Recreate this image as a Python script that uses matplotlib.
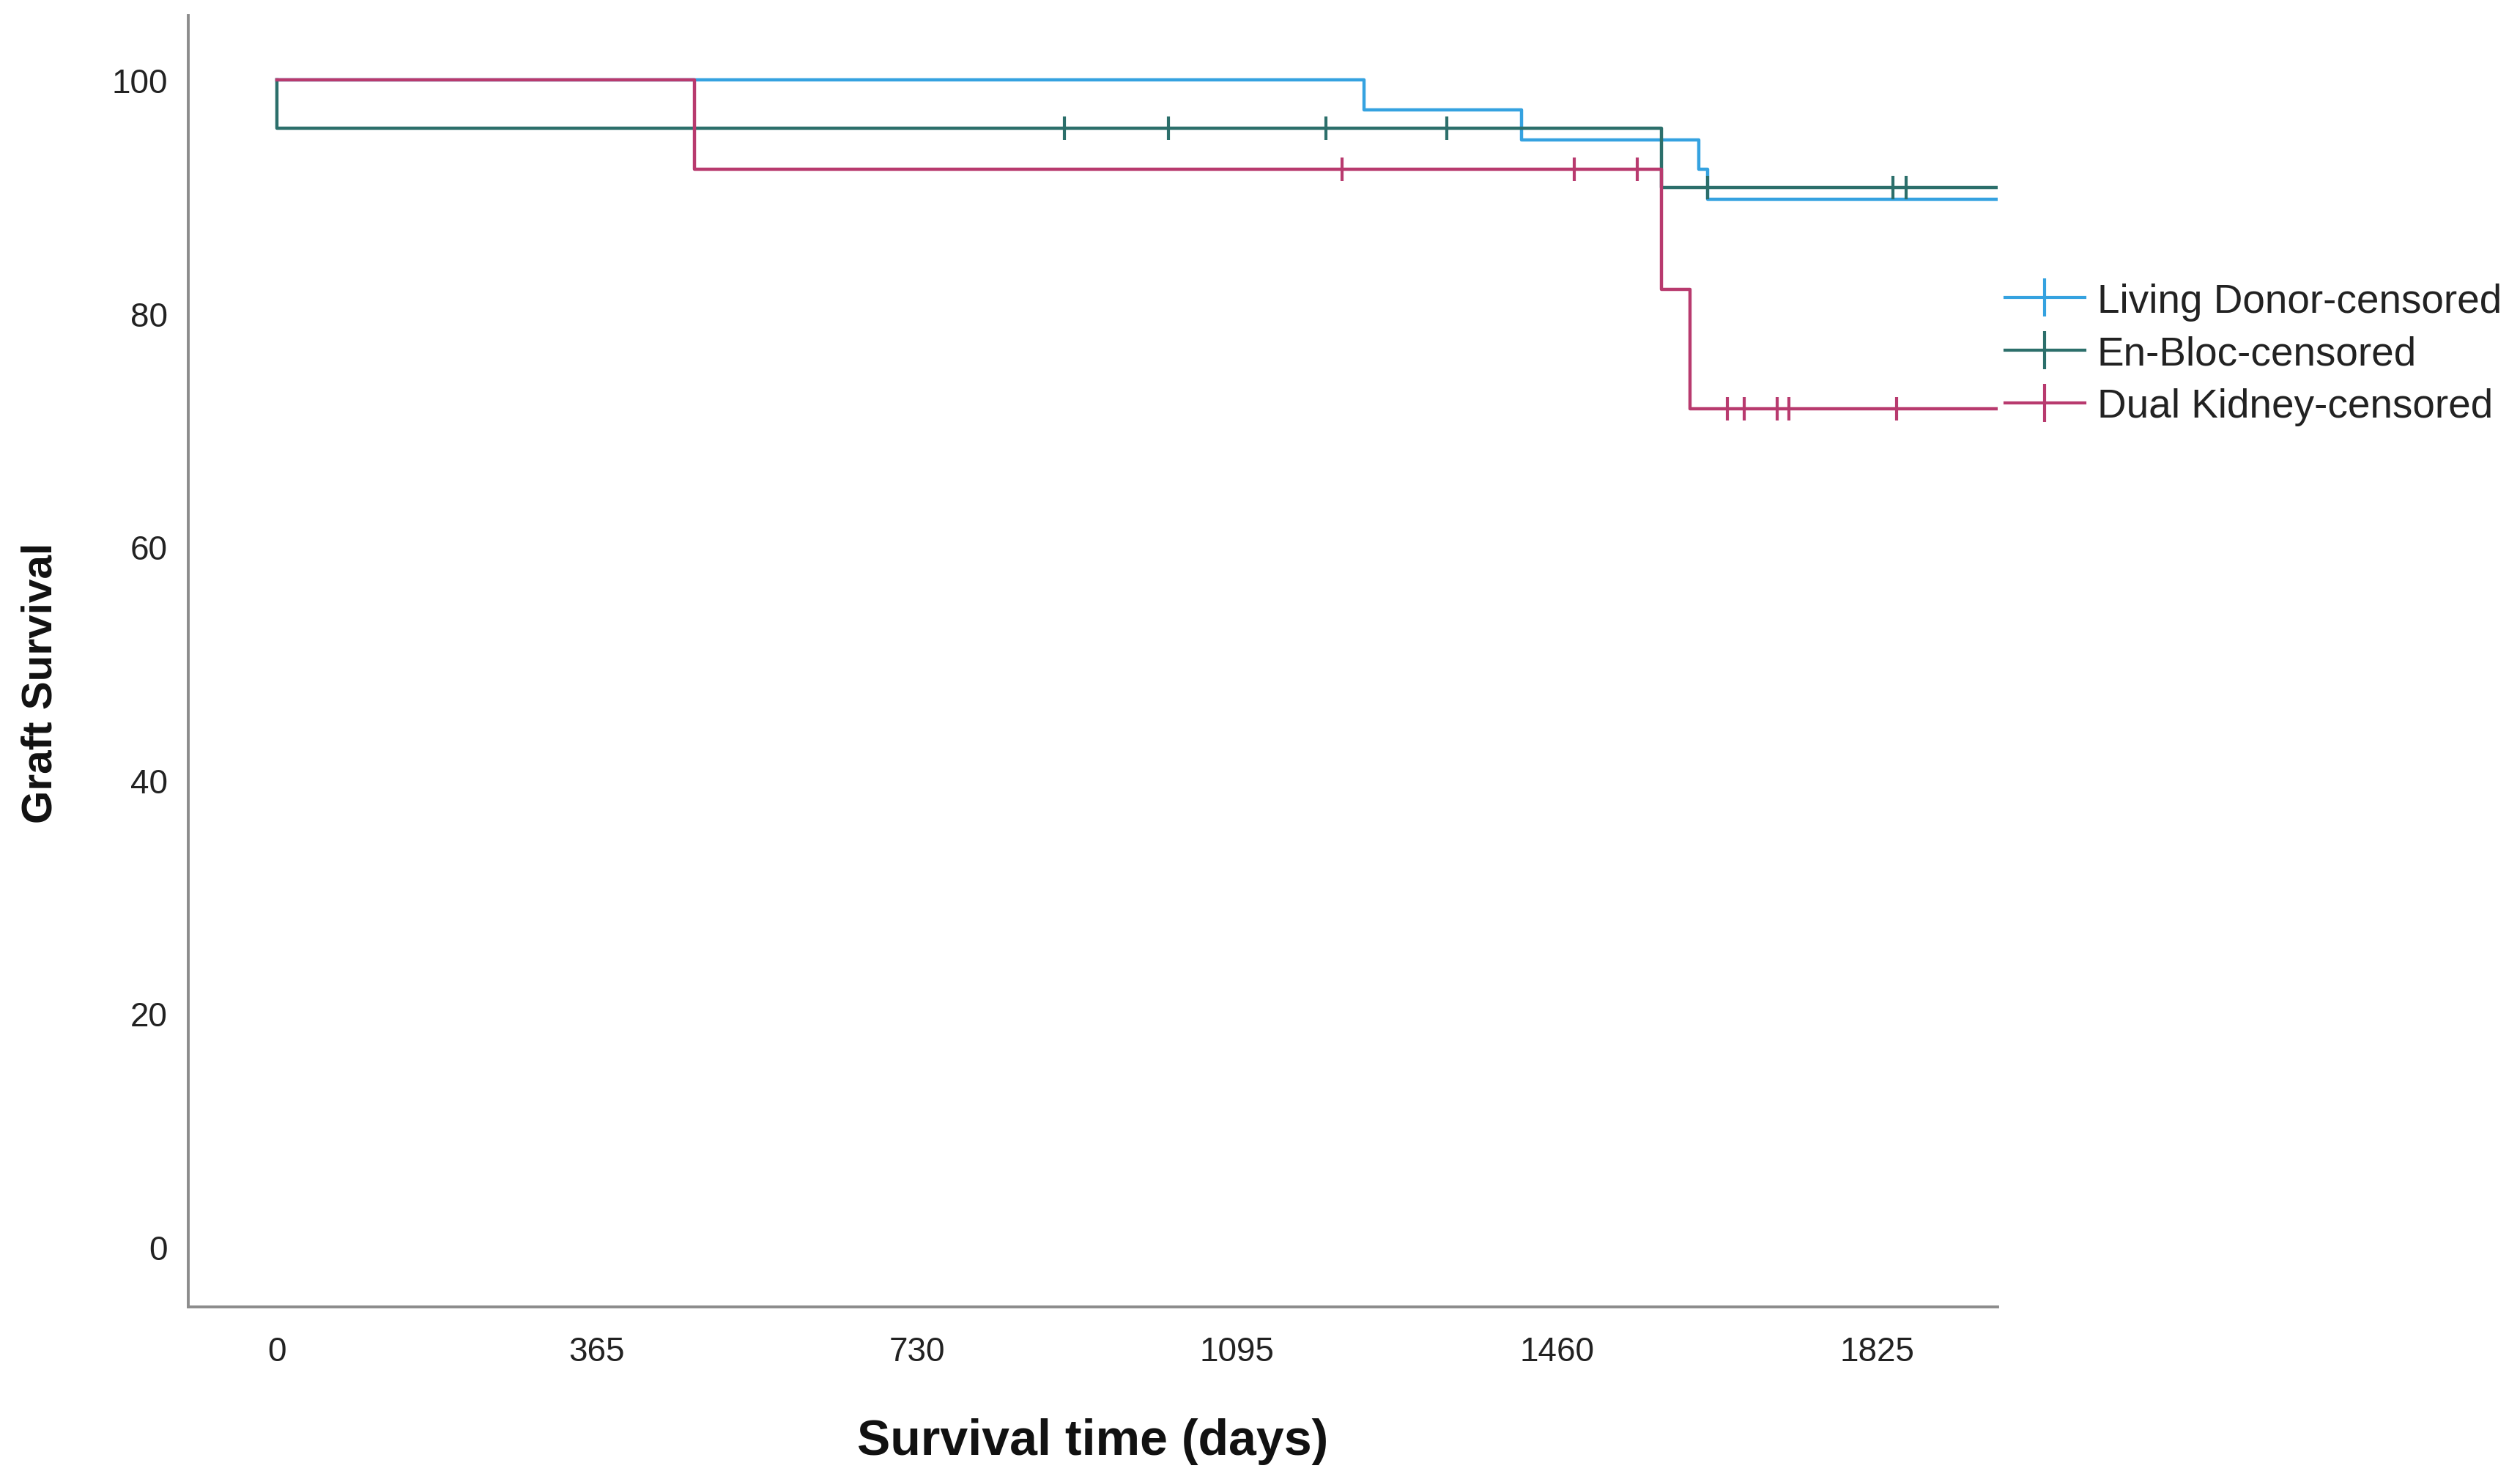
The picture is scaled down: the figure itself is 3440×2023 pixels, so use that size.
import matplotlib
matplotlib.use('Agg')
from matplotlib import pyplot as plt
from matplotlib.lines import Line2D

plt.rcParams['font.family'] = ['Liberation Sans', 'DejaVu Sans']

# Kaplan-Meier curves (days, % graft survival)
living_times = [0, 1240, 1419, 1621, 1631, 1962]
living_surv = [100, 97.44, 94.87, 92.31, 89.74, 89.74]

enbloc_times = [0, 0, 1579, 1962]
enbloc_surv = [100, 95.83, 90.79, 90.79]
enbloc_censor = [898, 1017, 1196, 1334, 1631, 1843, 1858]

dual_times = [0, 476, 1579, 1611, 1962]
dual_surv = [100, 92.31, 82.05, 71.79, 71.79]
dual_censor = [1215, 1479, 1551, 1654, 1673, 1711, 1724, 1847]

x_ticks = [0, 365, 730, 1095, 1460, 1825]
y_ticks = [0, 20, 40, 60, 80, 100]
labels = ['Living Donor-censored', 'En-Bloc-censored', 'Dual Kidney-censored']

c_living = '#35a2e0'
c_enbloc = '#2c6f6b'
c_dual = '#b83a6e'


def surv_at(times, surv, t):
    val = surv[0]
    for ti, si in zip(times, surv):
        if ti <= t:
            val = si
    return val


fig = plt.figure(figsize=(34.4, 20.24), dpi=100)
ax = fig.add_axes([0.0746, 0.118, 0.7181, 0.871])

ax.step(living_times, living_surv, where='post', color=c_living, lw=3.2)
ax.step(enbloc_times, enbloc_surv, where='post', color=c_enbloc, lw=3.2)
ax.plot(enbloc_censor, [surv_at(enbloc_times, enbloc_surv, t) for t in enbloc_censor],
        ls='none', marker='|', ms=23, mew=3, color=c_enbloc)
ax.step(dual_times, dual_surv, where='post', color=c_dual, lw=3.2)
ax.plot(dual_censor, [surv_at(dual_times, dual_surv, t) for t in dual_censor],
        ls='none', marker='|', ms=23, mew=3, color=c_dual)

ax.set_xlim(-101, 1962)
ax.set_ylim(-5.15, 105.5)
ax.set_xticks(x_ticks)
ax.set_yticks(y_ticks)
ax.tick_params(axis='both', length=0, labelsize=33, colors='#222222')
ax.tick_params(axis='x', pad=28)
ax.tick_params(axis='y', pad=20)
for s in ['top', 'right']:
    ax.spines[s].set_visible(False)
for s in ['left', 'bottom']:
    ax.spines[s].set_color('#8c8c8c')
    ax.spines[s].set_linewidth(2.8)

fig.text(0.4337, 0.0277, 'Survival time (days)', ha='center', va='center',
         fontsize=49, fontweight='bold', color='#111111')
fig.text(0.016, 0.5395, 'Graft Survival', ha='center', va='center', rotation=90,
         fontsize=42, fontweight='bold', color='#111111')

handles = [Line2D([], [], color=c, lw=3, marker='|', ms=38, mew=3)
           for c in [c_living, c_enbloc, c_dual]]
fig.legend(handles, labels, loc='upper left', bbox_to_anchor=(0.7955, 0.809),
           frameon=False, fontsize=39.5, handlelength=2.0, handletextpad=0.3,
           labelspacing=0.36, borderpad=0, borderaxespad=0, labelcolor='#222222')

fig.savefig('out.png', dpi=100)
